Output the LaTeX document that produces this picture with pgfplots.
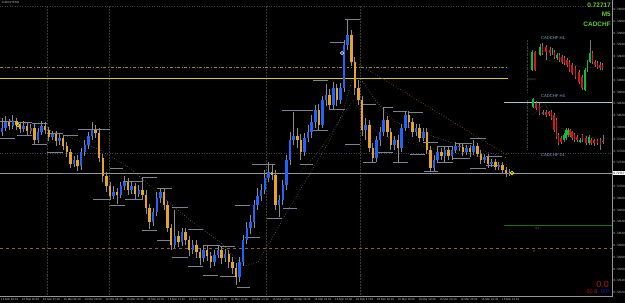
\documentclass[border=0pt]{standalone}
\usepackage{fontspec}
\setmainfont{Liberation Sans}
\usepackage{pgfplots}
\usepackage{pgfplotstable}
\pgfplotsset{compat=1.18}
\definecolor{cblue}{RGB}{30,100,255}
\definecolor{corange}{RGB}{232,162,36}
\definecolor{cdoji}{RGB}{90,90,90}
\definecolor{cwick}{RGB}{140,140,140}
\definecolor{cbox}{RGB}{120,132,145}
\definecolor{cgreen}{RGB}{0,200,40}
\definecolor{cred}{RGB}{220,20,20}
\definecolor{ctxtgreen}{RGB}{95,205,50}
\definecolor{cinset}{RGB}{120,170,210}
\definecolor{csep}{RGB}{60,60,40}
\definecolor{cpivot}{RGB}{140,90,60}
\definecolor{cs1}{RGB}{25,110,25}
\definecolor{colive}{RGB}{140,140,55}
\definecolor{cyell}{RGB}{215,200,0}
\definecolor{clblue}{RGB}{165,200,215}
\definecolor{ctrend}{RGB}{150,70,40}
\definecolor{cring}{RGB}{230,220,0}
\definecolor{cring2}{RGB}{200,230,240}
\definecolor{cmini}{RGB}{110,100,45}
\definecolor{cdred}{RGB}{180,20,20}
\definecolor{cdblue}{RGB}{20,20,230}
\definecolor{cdot1}{RGB}{115,115,115}
\definecolor{cdot2}{RGB}{85,85,85}
\definecolor{cdot3}{RGB}{60,60,60}
\definecolor{cprice}{RGB}{150,150,150}
\definecolor{caxis}{RGB}{150,150,150}
\definecolor{clabel}{RGB}{190,190,190}
\definecolor{cminiwick}{RGB}{120,120,120}

\pgfplotstableread{
x o c h l t
2 132 128 118 136 1
5.6 128 122 116 131 1
9.2 122 126 119 130 2
12.8 126 121 115 129 1
16.4 121 125 118 130 2
20 125 129 122 133 2
23.6 129 126 121 132 1
27.2 126 131 123 135 2
30.8 131 128 124 134 3
34.4 128 140 124 144 2
38 140 132 128 143 1
41.6 132 126 121 135 1
45.2 126 130 122 134 2
48.8 130 137 127 141 2
52.4 137 134 131 140 1
56 134 141 131 146 2
59.6 141 138 134 145 1
63.2 138 146 135 150 2
66.8 146 152 142 157 2
70.4 152 164 149 168 2
74 164 160 156 167 1
77.6 160 166 155 171 2
81.2 166 152 148 170 1
84.8 152 145 140 156 1
88.4 145 136 132 149 1
92 136 130 122 140 1
95.6 130 133 125 138 2
99.2 133 158 128 162 2
102.8 158 176 154 182 2
106.4 176 186 172 192 2
110 186 196 182 200 2
113.6 196 192 186 199 1
117.2 192 195 188 204 2
120.8 195 186 182 198 1
124.4 186 182 176 190 1
128 182 190 178 195 2
131.6 190 186 181 194 1
135.2 186 194 183 199 2
138.8 194 190 185 197 1
142.4 190 195 178 200 2
146 195 208 190 214 2
149.6 208 222 204 229 2
153.2 222 212 208 226 1
156.8 212 198 192 216 1
160.4 198 192 188 203 1
164 192 205 189 210 2
167.6 205 228 201 232 2
171.2 228 245 224 250 2
174.8 245 236 210 248 1
178.4 236 242 231 247 2
182 242 232 228 246 1
185.6 232 240 228 245 2
189.2 240 250 236 256 2
192.8 250 245 240 254 1
196.4 245 252 240 258 2
200 252 258 248 265 2
203.6 258 250 246 262 1
207.2 250 256 246 261 2
210.8 256 262 252 268 2
214.4 262 255 250 266 1
218 255 250 245 258 1
221.6 250 258 246 264 2
225.2 258 254 249 262 1
228.8 254 262 250 268 2
232.4 262 268 257 274 2
236 268 277 263 285 2
239.6 277 262 257 282 1
243.2 262 240 235 266 1
246.8 240 228 222 244 1
250.4 228 222 215 234 1
254 222 205 200 228 1
257.6 205 196 188 210 1
261.2 196 190 184 201 1
264.8 190 178 170 194 1
268.4 178 172 162 182 1
272 172 175 164 180 2
275.6 175 205 170 210 2
279.2 205 200 195 217 1
282.8 200 185 180 205 1
286.4 185 160 155 190 1
290 160 140 132 165 1
293.6 140 136 112 145 1
297.2 136 140 128 148 2
300.8 140 152 134 160 2
304.4 152 138 133 156 1
308 138 132 125 142 1
311.6 132 122 115 138 1
315.2 122 110 105 128 1
318.8 110 125 104 130 2
322.4 125 100 96 128 1
326 100 95 84 106 1
329.6 95 105 89 110 2
333.2 105 88 82 109 1
336.8 88 100 84 106 2
340.4 100 88 83 104 1
344 88 45 40 92 1
347.6 45 35 19 50 1
351.2 35 62 30 66 2
354.8 62 88 57 95 2
358.4 88 100 80 105 2
362 100 130 96 136 2
365.6 130 125 118 140 1
369.2 125 148 120 152 2
372.8 148 158 143 162 2
376.4 158 140 136 162 1
380 140 132 127 146 1
383.6 132 120 108 136 1
387.2 120 132 116 137 2
390.8 132 145 128 150 2
394.4 145 140 136 150 1
398 140 148 135 162 2
401.6 148 128 124 152 1
405.2 128 115 111 131 1
408.8 115 122 111 128 2
412.4 122 132 118 137 2
416 132 128 124 136 1
419.6 128 138 124 142 2
423.2 138 132 128 141 1
426.8 132 150 128 154 2
430.4 150 168 146 171 2
434 168 160 155 171 1
437.6 160 152 146 163 1
441.2 152 156 148 160 2
444.8 156 150 146 162 1
448.4 150 156 147 160 2
452 156 150 146 160 1
455.6 150 146 142 153 1
459.2 146 147 143 151 3
462.8 147 152 144 156 2
466.4 152 148 145 155 1
470 148 152 145 157 2
473.6 152 146 140 155 1
477.2 146 154 143 157 2
480.8 154 160 150 164 2
484.4 160 157 154 163 1
488 157 164 154 168 2
491.6 164 162 159 167 1
495.2 162 167 159 170 2
498.8 167 165 162 170 1
502.4 165 170 162 174 2
506 170 173 167 177 2
509.6 173 173 169 176 3
}\mfive

\pgfplotstableread{
xa xb y
0 15 121
17 32 122
32 47 123
47 63 133
63 78 135
78 110 129
110 123 168
123 142 181
142 157 177
157 172 188
172 188 207
188 203 229
203 220 245
220 235 246
235 250 205
252 275 164
282 298 110
298 313 110
313 328 80
330 345 42
345 360 19
363 376 104
383 393 107
393 407 111
408 423 112
423 438 142
438 452 146
455 472 143
470 486 138
486 502 156
0 15 138
17 32 135
32 47 144
47 63 152
63 78 173
93 110 199
110 125 205
125 142 199
142 157 230
157 172 240
172 188 257
188 203 266
203 218 275
220 237 276
237 250 287
245 260 237
267 282 218
283 297 208
300 313 164
313 328 130
330 345 109
345 360 144
363 376 162
376 393 152
393 408 162
410 425 154
424 438 171
437 453 162
453 470 158
470 486 168
486 500 165
}\boxes

\pgfplotstableread{
x o c h l t
532 70 52 50 71 1
535 52 70 51 71 2
540 55 47 44 56 1
542.5 46 53 43 55 2
546 47 52 45 60 2
550 50 53 47 56 2
552.5 53 50 48 55 1
554.5 52 57 50 59 2
557 58 55 53 60 1
559.5 55 60 53 62 2
562 57 62 55 64 2
564.5 58 63 56 65 2
567 60 65 58 67 2
569.5 62 70 60 72 2
572 65 73 63 75 2
575.5 68 77 66 79 2
579 72 82 70 84 2
582 77 88 75 90 2
585 90 70 68 91 1
587.5 70 62 60 72 1
590 62 53 40 63 1
592.5 53 62 51 64 2
595 62 65 60 67 2
597.5 63 67 61 69 2
600 65 68 62 70 2
602.5 65 68 63 70 2
533 107 99 98 108 1
536 103 108 101 110 2
539.5 105 113 103 115 2
543 112 114 110 115 3
546 112 115 110 117 2
549 112 114 111 116 2
551.5 112 118 110 120 2
554 115 130 113 132 2
556.5 120 137 118 139 2
558.5 135 143 133 145 2
561 138 142 136 144 2
564 140 135 133 142 1
566 138 130 128 140 1
568 135 130 128 137 1
570 130 135 129 137 2
572 132 138 131 140 2
574.5 134 140 133 142 2
577 137 140 135 142 2
580 142 140 138 143 1
582.5 135 140 134 142 2
586 138 143 136 145 2
589 143 137 135 145 1
591 140 143 138 145 2
594 140 143 139 146 2
597.5 140 143 139 145 2
600.5 140 145 138 150 2
603 141 142 135 144 3
}\insets

\begin{document}
\begin{tikzpicture}
\begin{axis}[
  scale only axis, width=625bp, height=303bp,
  xmin=0, xmax=625, ymin=0, ymax=303, y dir=reverse,
  axis background/.style={fill=black},
  axis line style={draw=none}, ticks=none, clip=true,
  wick/.style={mark=none, forget plot, line width=#1, line cap=butt,
     quiver={u=0, v=\thisrow{l}-\thisrow{h}}},
  body/.style={mark=none, forget plot, line width=#1, line cap=butt,
     quiver={u=0, v=abs(\thisrow{c}-\thisrow{o})+0.8}},
]
% separators and horizontal levels
\addplot[csep, densely dotted, line width=0.5pt] coordinates {(47.5,6) (47.5,296)};
\addplot[csep, densely dotted, line width=0.5pt] coordinates {(109.5,6) (109.5,296)};
\addplot[csep, densely dotted, line width=0.5pt] coordinates {(266.7,6) (266.7,296)};
\addplot[csep, densely dotted, line width=0.5pt] coordinates {(360,6) (360,296)};
\addplot[cdot3, dotted, line width=0.5pt] coordinates {(0,6) (612,6)};
\addplot[cdot3, dotted, line width=0.5pt] coordinates {(0,153) (612,153)};
\addplot[cpivot, dashed, line width=0.7pt] coordinates {(0,248) (612,248)};
\addplot[cs1, line width=0.7pt] coordinates {(504,225) (612,225)};
\addplot[colive, dash dot, line width=0.6pt] coordinates {(0,67) (507,67)};
\addplot[cyell, line width=0.9pt] coordinates {(0,78) (508,78)};
\addplot[clblue, line width=0.9pt] coordinates {(504,102) (612,102)};
\addplot[cprice, line width=0.8pt] coordinates {(0,173) (612,173)};
% moving averages and trend line
\addplot[cdot1, dotted, line width=0.6pt] coordinates {(0,118) (33,125) (70,137) (100,150) (130,168) (160,195) (190,220) (220,242) (235,258) (245,266) (258,262) (270,242) (285,215) (300,190) (315,165) (330,140) (343,112) (352,80) (360,78) (375,100) (395,122) (420,132) (450,142) (480,150) (507,158)};
\addplot[cdot2, dotted, line width=0.6pt] coordinates {(300,172) (320,150) (340,120) (353,100) (365,118) (380,135) (400,140) (430,148) (460,151) (507,165)};
\addplot[ctrend, dotted, line width=0.7pt] coordinates {(352,60) (507,155)};
% range boxes
\addplot[cbox, mark=none, forget plot, line width=0.8pt, line cap=butt, quiver={u=\thisrow{xb}-\thisrow{xa}, v=0}]
  table[x=xa, y=y] {\boxes};
% wicks
\addplot[cwick, wick=0.7pt] table[x=x, y=h] {\mfive};
% bodies
\addplot[cblue, body=2.6pt, restrict expr to domain={\thisrow{t}}{0.5:1.5}]
  table[x=x, y expr={min(\thisrow{o},\thisrow{c})-0.4}] {\mfive};
\addplot[corange, body=2.6pt, restrict expr to domain={\thisrow{t}}{1.5:2.5}]
  table[x=x, y expr={min(\thisrow{o},\thisrow{c})-0.4}] {\mfive};
\addplot[cdoji, body=2.6pt, restrict expr to domain={\thisrow{t}}{2.5:3.5}]
  table[x=x, y expr={min(\thisrow{o},\thisrow{c})-0.4}] {\mfive};
% markers
\addplot[only marks, mark=o, mark size=1.8pt, cring, line width=0.8pt] coordinates {(512,173) (18,125)};
\addplot[only marks, mark=o, mark size=1.6pt, cring2, line width=0.7pt] coordinates {(342,53)};
% insets
\addplot[cdot3, densely dotted, line width=0.4pt] coordinates {(527,40) (527,92)};
\addplot[cdot3, densely dotted, line width=0.4pt] coordinates {(527,100) (527,150)};
\addplot[cmini, densely dotted, line width=0.4pt] coordinates {(545,60) (567,63) (585,68) (603,66)};
\addplot[cmini, densely dotted, line width=0.4pt] coordinates {(532,115) (545,104) (557,127) (580,134) (603,140)};
\addplot[cminiwick, wick=0.5pt] table[x=x, y=h] {\insets};
\addplot[cgreen, body=1.7pt, restrict expr to domain={\thisrow{t}}{0.5:1.5}]
  table[x=x, y expr={min(\thisrow{o},\thisrow{c})-0.4}] {\insets};
\addplot[cred, body=1.7pt, restrict expr to domain={\thisrow{t}}{1.5:2.5}]
  table[x=x, y expr={min(\thisrow{o},\thisrow{c})-0.4}] {\insets};
\addplot[cdoji, body=1.7pt, restrict expr to domain={\thisrow{t}}{2.5:3.5}]
  table[x=x, y expr={min(\thisrow{o},\thisrow{c})-0.4}] {\insets};
% axes frame
\addplot[caxis, line width=0.7pt] coordinates {(0,296) (612,296) (612,0)};
% texts
\node[anchor=west, text=clabel, inner sep=0, font=\fontsize{3}{3.5}\selectfont] at (axis cs:2,2.5) {CADCHF,M5};
\node[anchor=east, text=ctxtgreen, inner sep=0, font=\fontsize{6.5}{7}\selectfont\bfseries] at (axis cs:611,5) {0.72717};
\node[anchor=east, text=ctxtgreen, inner sep=0, font=\fontsize{6.5}{7}\selectfont\bfseries] at (axis cs:611,14.5) {M5};
\node[anchor=east, text=ctxtgreen, inner sep=0, font=\fontsize{6.5}{7}\selectfont\bfseries] at (axis cs:611,24) {CADCHF};
\node[text=cinset, inner sep=0, font=\fontsize{4.2}{5}\selectfont] at (axis cs:553,38) {CADCHF H1};
\node[text=cinset, inner sep=0, font=\fontsize{4.2}{5}\selectfont] at (axis cs:553,96) {CADCHF H4};
\node[text=cinset, inner sep=0, font=\fontsize{4.2}{5}\selectfont] at (axis cs:553,155) {CADCHF D1};
\node[anchor=west, text=cdot2, inner sep=0, font=\fontsize{3.2}{4}\selectfont] at (axis cs:528,80) {Open};
\node[anchor=west, text=cdot1, inner sep=0, font=\fontsize{3.2}{4}\selectfont] at (axis cs:535,228) {S1};
\node[anchor=west, text=cdot1, inner sep=0, font=\fontsize{3.2}{4}\selectfont] at (axis cs:533,251) {P};
\node[anchor=east, text=cdred, inner sep=0, font=\fontsize{9}{10}\selectfont] at (axis cs:609,284) {0.0};
\node[anchor=east, text=cdred, inner sep=0, font=\fontsize{5.5}{6}\selectfont] at (axis cs:597.5,291.5) {-30.8};
\node[anchor=east, text=cdblue, inner sep=0, font=\fontsize{6}{6}\selectfont] at (axis cs:609.5,291.5) {0.0};
% price labels
\begin{scope}[every node/.style={anchor=west, text=clabel, inner sep=0, font=\fontsize{3.1}{3.5}\selectfont}]
\node at (axis cs:613.5,9.5) {0.73000};
\node at (axis cs:613.5,21.3) {0.72980};
\node at (axis cs:613.5,33.1) {0.72960};
\node at (axis cs:613.5,44.9) {0.72940};
\node at (axis cs:613.5,56.7) {0.72920};
\node at (axis cs:613.5,68.5) {0.72900};
\node at (axis cs:613.5,80.3) {0.72880};
\node at (axis cs:613.5,92.1) {0.72860};
\node at (axis cs:613.5,103.9) {0.72840};
\node at (axis cs:613.5,115.7) {0.72820};
\node at (axis cs:613.5,127.5) {0.72800};
\node at (axis cs:613.5,139.3) {0.72780};
\node at (axis cs:613.5,151.1) {0.72760};
\node at (axis cs:613.5,162.9) {0.72740};
\node at (axis cs:613.5,186.5) {0.72700};
\node at (axis cs:613.5,198.3) {0.72680};
\node at (axis cs:613.5,210.1) {0.72660};
\node at (axis cs:613.5,221.9) {0.72640};
\node at (axis cs:613.5,233.7) {0.72620};
\node at (axis cs:613.5,245.5) {0.72600};
\node at (axis cs:613.5,257.3) {0.72580};
\node at (axis cs:613.5,269.1) {0.72560};
\node at (axis cs:613.5,280.9) {0.72540};
\node at (axis cs:613.5,292.7) {0.72520};
\end{scope}
\node[anchor=west, fill=white, text=black, inner xsep=0.3pt, inner ysep=0.6pt, font=\fontsize{3.1}{3.5}\selectfont] at (axis cs:613,173) {0.72717};
% time labels
\begin{scope}[every node/.style={anchor=west, text=clabel, inner sep=0, font=\fontsize{2.9}{3.5}\selectfont}]
\node at (axis cs:1,299.5) {16 Mar 06:10};
\node at (axis cs:21.9,299.5) {16 Mar 06:50};
\node at (axis cs:42.8,299.5) {16 Mar 07:30};
\node at (axis cs:63.6,299.5) {16 Mar 08:10};
\node at (axis cs:84.5,299.5) {16 Mar 08:50};
\node at (axis cs:105.4,299.5) {16 Mar 09:30};
\node at (axis cs:126.3,299.5) {16 Mar 10:10};
\node at (axis cs:147.1,299.5) {16 Mar 10:50};
\node at (axis cs:168,299.5) {16 Mar 11:30};
\node at (axis cs:188.9,299.5) {16 Mar 12:10};
\node at (axis cs:209.8,299.5) {16 Mar 12:50};
\node at (axis cs:230.6,299.5) {16 Mar 13:30};
\node at (axis cs:251.5,299.5) {16 Mar 14:10};
\node at (axis cs:272.4,299.5) {16 Mar 14:50};
\node at (axis cs:293.3,299.5) {16 Mar 15:30};
\node at (axis cs:314.1,299.5) {16 Mar 16:10};
\node at (axis cs:335,299.5) {16 Mar 16:50};
\node at (axis cs:355.9,299.5) {16 Mar 17:30};
\node at (axis cs:376.8,299.5) {16 Mar 18:10};
\node at (axis cs:397.6,299.5) {16 Mar 18:50};
\node at (axis cs:418.5,299.5) {16 Mar 19:30};
\node at (axis cs:439.4,299.5) {16 Mar 20:10};
\node at (axis cs:460.3,299.5) {16 Mar 20:50};
\node at (axis cs:481.1,299.5) {16 Mar 21:30};
\node at (axis cs:502,299.5) {16 Mar 22:10};
\end{scope}
\end{axis}
\pgfresetboundingbox
\path (current axis.south west) rectangle (current axis.north east);
\end{tikzpicture}
\end{document}
